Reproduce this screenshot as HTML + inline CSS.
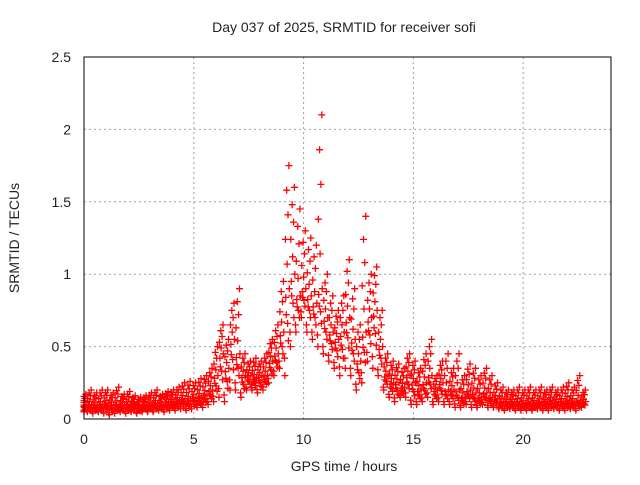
<!DOCTYPE html>
<html><head><meta charset="utf-8"><style>
body{margin:0;background:#fff}
svg text{font-family:"Liberation Sans",sans-serif;font-size:14px;fill:#222}
</style></head><body>
<svg id="chart" width="640" height="480" xmlns="http://www.w3.org/2000/svg">
<rect width="640" height="480" fill="#fff"/>
<text x="344" y="32" text-anchor="middle">Day 037 of 2025, SRMTID for receiver sofi</text>
<text x="344" y="471" text-anchor="middle">GPS time / hours</text>
<text transform="translate(19,238) rotate(-90)" text-anchor="middle">SRMTID / TECUs</text>
<g id="grid"></g><g id="ticks"></g><g id="marks"></g>
<rect x="84" y="57" width="527" height="362" fill="none" stroke="#000" stroke-width="1"/>
</svg>
<script>
const xTicks=[0,5,10,15,20];
const yTicks=[0,0.5,1,1.5,2,2.5];
const yTickLabels=["0","0.5","1","1.5","2","2.5"];
const tStart=0, tStep=0.25;
const lo=[.05,.05,.04,.05,.04,.03,.04,.05,.04,.05,.04,.05,.05,.05,.06,.05,.06,.06,.07,.06,.07,.08,.08,.1,.12,.15,.12,.2,.2,.15,.2,.2,.18,.2,.25,.3,.35,.3,.5,.6,.7,.6,.55,.5,.45,.4,.35,.3,.35,.3,.2,.25,.4,.35,.3,.2,.15,.12,.15,.15,.1,.1,.12,.15,.1,.12,.1,.1,.08,.08,.1,.08,.08,.1,.08,.08,.07,.06,.07,.06,.06,.06,.06,.07,.06,.06,.07,.06,.06,.07,.06,.08];
const mid=[.1,.1,.1,.1,.11,.1,.1,.1,.1,.1,.08,.1,.1,.11,.1,.12,.12,.13,.14,.13,.15,.15,.17,.2,.3,.45,.35,.55,.45,.3,.3,.28,.3,.3,.4,.45,.6,.9,1.0,.85,.9,.85,.8,.9,.7,.6,.55,.6,.7,.55,.4,.6,.7,.75,.5,.3,.25,.25,.22,.3,.25,.2,.25,.3,.2,.25,.2,.2,.2,.15,.2,.18,.15,.18,.15,.14,.12,.12,.12,.12,.11,.12,.11,.12,.12,.13,.12,.12,.13,.12,.13,.12];
const hi=[.17,.2,.18,.2,.2,.18,.22,.17,.19,.16,.15,.16,.18,.2,.17,.19,.2,.22,.25,.26,.25,.28,.3,.35,.5,.65,.55,.8,.9,.45,.4,.42,.4,.45,.55,.65,.95,1.75,1.6,1.45,1.3,1.25,1.2,2.1,1.0,.85,.75,.85,1.1,.9,.65,1.4,1.0,1.05,.75,.45,.4,.38,.35,.45,.4,.35,.45,.55,.3,.4,.45,.35,.45,.3,.38,.35,.3,.35,.3,.25,.22,.2,.2,.22,.2,.22,.2,.22,.2,.22,.2,.22,.25,.22,.3,.2];
const X=h=>84+h*527/24, Y=v=>419-v*362/2.5;
const NS="http://www.w3.org/2000/svg";
const grid=document.getElementById('grid'),ticks=document.getElementById('ticks'),marks=document.getElementById('marks');
function mk(tag,attrs,parent){const e=document.createElementNS(NS,tag);for(const k in attrs)e.setAttribute(k,attrs[k]);parent.appendChild(e);return e;}
xTicks.forEach(t=>{
  if(t>0){const g=mk('line',{x1:X(t),x2:X(t),y1:57,y2:419,stroke:'#a0a0a0','stroke-dasharray':'2,3'},grid);
  
  }
  const tx=mk('text',{x:X(t),y:444,'text-anchor':'middle'},ticks);tx.textContent=t;
  
  
});
yTicks.forEach((v,i)=>{
  if(v>0&&v<2.5){const g=mk('line',{x1:84,x2:611,y1:Y(v),y2:Y(v),stroke:'#a0a0a0','stroke-dasharray':'2,3'},grid);
  
  }
  const tx=mk('text',{x:71,y:Y(v)+5,'text-anchor':'end'},ticks);tx.textContent=yTickLabels[i];
  
  
});
let d='';
function plus(h,v){if(h<0)h=0;const x=X(h),y=Y(v);d+=`M${(x-3.5).toFixed(1)} ${y.toFixed(1)}h7M${x.toFixed(1)} ${(y-3.5).toFixed(1)}v7`;}
const offs=[-0.1,0.06,-0.04,0.1,0,-0.08,0.04,-0.02,0.08,-0.06,0.02,-0.12];
const fr=[0,0.2,0.35,0.5,0.6,0.7,0.8,0.9,1.0,0.45,0.3,0.1];
lo.forEach((l,i)=>{
  const t=tStart+i*tStep,m=mid[i],h=hi[i];
  fr.forEach((f,k)=>{
    const v=f<=0.5? l+(m-l)*f*2 : m+(h-m)*(f-0.5)*2;
    plus(t+offs[k],v);
  });
});
const p=mk('path',{d:d,stroke:'#f00','stroke-width':1.3,fill:'none'},marks);


</script>
</body></html>
